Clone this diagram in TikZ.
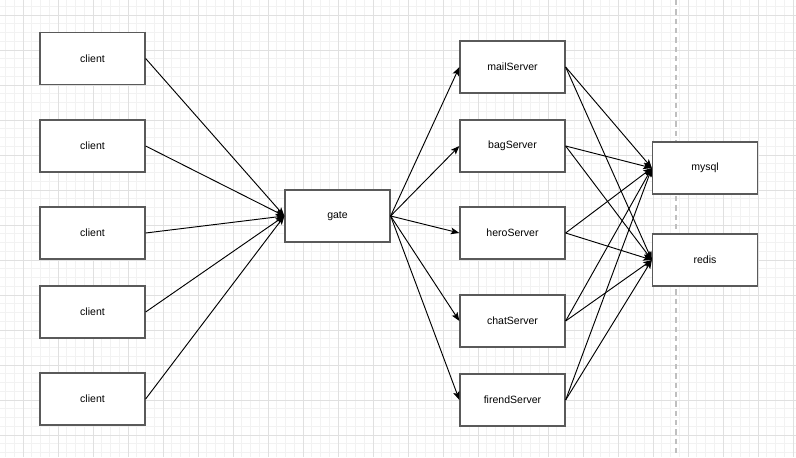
\documentclass[tikz,border=0pt]{standalone}
\usepackage{fontspec}
\setmainfont{Liberation Sans}
\usetikzlibrary{arrows.meta}
\definecolor{gridminor}{HTML}{F2F2F2}
\definecolor{gridmajor}{HTML}{E0E0E0}
\definecolor{boxborder}{HTML}{5A5A5A}
\tikzset{
  box/.style={draw=boxborder, fill=white, line width=0.95pt, minimum width=78.75pt, minimum height=39pt, inner sep=0pt, font=\fontsize{7.9pt}{9pt}\selectfont},
  conn/.style={draw=black, line width=0.7pt, -{Stealth[length=6.5pt,width=5pt,inset=1.5pt]}}
}
\begin{document}
\begin{tikzpicture}[x=0.75pt,y=-0.75pt]
\useasboundingbox (0,0) rectangle (796,457);
\fill[white] (0,0) rectangle (796,457);
% grid
\foreach \k in {0,...,91} {
  \draw[gridminor, line width=0.55pt] ({5.5+8.75*\k},0) -- ({5.5+8.75*\k},457);
}
\foreach \k in {0,...,52} {
  \draw[gridminor, line width=0.55pt] (0,{6.25+8.75*\k}) -- (796,{6.25+8.75*\k});
}
\foreach \k in {0,...,22} {
  \draw[gridmajor, line width=0.6pt] ({23+35*\k},0) -- ({23+35*\k},457);
}
\foreach \k in {0,...,13} {
  \draw[gridmajor, line width=0.6pt] (0,{15+35*\k}) -- (796,{15+35*\k});
}
\draw[black!25, line width=1pt, dash pattern=on 4pt off 3pt] (676,0) -- (676,457);
% nodes
\node[box] (c1) at (92.5,58.5) {client};
\node[box] (c2) at (92.5,146) {client};
\node[box] (c3) at (92.5,233) {client};
\node[box] (c4) at (92.5,312) {client};
\node[box] (c5) at (92.5,399) {client};
\node[box] (gate) at (337.5,216) {gate};
\node[box] (s1) at (512.5,67) {mailServer};
\node[box] (s2) at (512.5,146) {bagServer};
\node[box] (s3) at (512.5,233) {heroServer};
\node[box] (s4) at (512.5,321) {chatServer};
\node[box] (s5) at (512.5,400) {firendServer};
\node[box] (mysql) at (705,168) {mysql};
\node[box] (redis) at (705,260) {redis};
% connectors
\foreach \c in {c1,c2,c3,c4,c5} {
  \draw[conn] (\c.east) -- (gate.west);
}
\foreach \s in {s1,s2,s3,s4,s5} {
  \draw[conn] (gate.east) -- (\s.west);
  \draw[conn] (\s.east) -- (mysql.west);
  \draw[conn] (\s.east) -- (redis.west);
}
\end{tikzpicture}
\end{document}
